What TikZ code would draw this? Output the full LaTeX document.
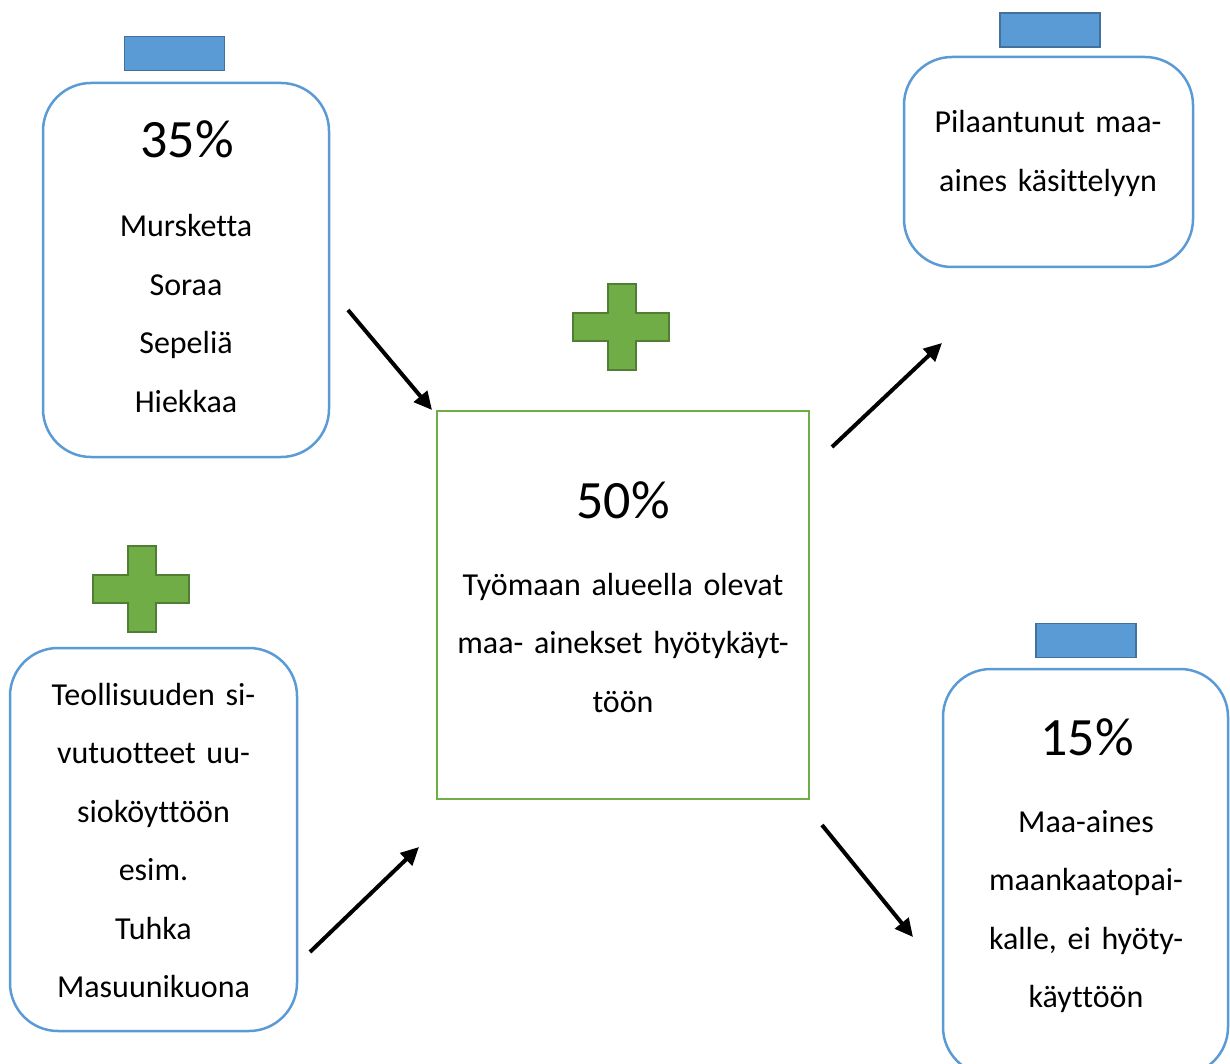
\documentclass[tikz,border=0pt]{standalone}
\usepackage{fontspec}
\setmainfont{Carlito}[Ligatures=NoCommon]
\usepackage{xcolor}
\definecolor{soilblue}{RGB}{91, 155, 213}
\definecolor{soilbluedark}{RGB}{65, 113, 156}
\definecolor{soilgreen}{RGB}{112, 173, 71}
\definecolor{soilgreendark}{RGB}{80, 126, 50}
\usetikzlibrary{arrows.meta,positioning}

\begin{document}
\begin{tikzpicture}[x=1pt,y=-1pt,
    binbox/.style={rectangle, draw=soilblue, line width=2.5pt, rounded corners=48pt, inner sep=0pt},
    lidbar/.style={rectangle, draw=soilbluedark, fill=soilblue, line width=1.8pt, minimum width=100pt, minimum height=34pt, inner sep=0pt},
    pctlabel/.style={anchor=base, inner sep=0pt, font=\fontsize{54pt}{60pt}\selectfont},
    bodytext/.style={anchor=base, align=center, text width=380pt, inner sep=0pt, font=\fontsize{32pt}{58.5pt}\selectfont},
    plussign/.style={draw=soilgreendark, fill=soilgreen, line width=2pt},
    flow/.style={-{Triangle[length=18pt,width=17pt]}, line width=4pt, black}]
    \useasboundingbox (0,0) rectangle (1230,1064);

    % Bins with lids
    \node[binbox, minimum width=286pt, minimum height=374pt] (gravelbin) at (186,270) {};
    \node[binbox, minimum width=289pt, minimum height=210pt] (pollutedbin) at (1048.5,162) {};
    \node[binbox, minimum width=287pt, minimum height=383pt] (sidebin) at (153.5,839.5) {};
    \node[binbox, minimum width=285pt, minimum height=406pt] (dumpbin) at (1085.5,872) {};

    \node[lidbar] (gravellid) at (174.5,53.5) {};
    \node[lidbar] (pollutedlid) at (1050,30) {};
    \node[lidbar] (dumplid) at (1086,640.5) {};

    % Work site
    \node[rectangle, draw=soilgreen, line width=2pt, minimum width=372pt, minimum height=388pt, inner sep=0pt] (worksite) at (623,605) {};

    % Plus signs
    \foreach \px/\py in {573/284, 93/546} {
        \draw[plussign, shift={(\px,\py)}]
            (35,0) -- (63,0) -- (63,29) -- (96,29) -- (96,57) -- (63,57)
            -- (63,86) -- (35,86) -- (35,57) -- (0,57) -- (0,29) -- (35,29) -- cycle;
    }

    % Labels
    \node[pctlabel] (gravelpct) at (187,158) {35\%};
    \node[bodytext] (gravelitems) at (186,237) {Mursketta\\Soraa\\Sepeliä\\Hiekkaa};
    \node[bodytext] (pollutedtext) at (1048,133) {Pilaantunut maa-\\aines käsittelyyn};
    \node[bodytext] (sidetext) at (153.5,705) {Teollisuuden si-\\vutuotteet uu-\\sioköyttöön\\esim.\\Tuhka\\Masuunikuona};
    \node[pctlabel] (dumppct) at (1087,755) {15\%};
    \node[bodytext] (dumptext) at (1086,832) {Maa-aines\\maankaatopai-\\kalle, ei hyöty-\\käyttöön};
    \node[pctlabel] (sitepct) at (623,518) {50\%};
    \node[bodytext] (sitetext) at (623,595) {Työmaan alueella olevat\\maa- ainekset hyötykäyt-\\töön};

    % Flows
    \coordinate (gravelout) at (348,310);
    \coordinate (sitein) at (432,410);
    \coordinate (siteout) at (832,447);
    \coordinate (pollutedin) at (942,343);
    \coordinate (sideout) at (310,952);
    \coordinate (sitein2) at (419,847);
    \coordinate (siteout2) at (822,825);
    \coordinate (dumpin) at (913,937);
    \draw[flow] (gravelout) -- (sitein);
    \draw[flow] (siteout) -- (pollutedin);
    \draw[flow] (sideout) -- (sitein2);
    \draw[flow] (siteout2) -- (dumpin);
\end{tikzpicture}
\end{document}
